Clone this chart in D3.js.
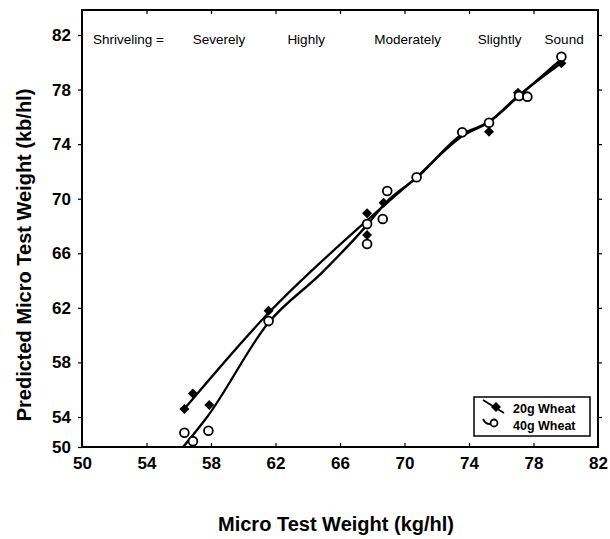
<!DOCTYPE html>
<html>
<head>
<meta charset="utf-8">
<script src="https://cdn.jsdelivr.net/npm/d3@7"></script>
<style>
  body { margin: 0; background: #fff; }
  svg text { font-family: "Liberation Sans", Arial, sans-serif; }
</style>
</head>
<body>
<svg id="chart" width="610" height="539"></svg>
<script>
var w20x = [56.35, 56.88, 57.89, 61.57, 67.68, 67.68, 68.70, 75.24, 77.04, 79.73];
var w20y = [54.58, 55.73, 54.87, 61.79, 68.93, 67.34, 69.70, 74.91, 77.77, 79.93];
var w40x = [56.35, 56.88, 57.84, 61.57, 67.68, 67.68, 68.65, 68.93, 70.75, 73.58, 75.24, 77.10, 77.62, 79.73];
var w40y = [52.84, 52.23, 52.99, 61.03, 68.14, 66.68, 68.51, 70.56, 71.57, 74.87, 75.57, 77.53, 77.48, 80.41];

// smoothed fit lines
var fit20x = [56.34, 61.55, 67.7, 70.75, 73.6, 75.2, 77.02, 79.81];
var fit20y = [54.58, 61.6, 68.44, 71.59, 74.6, 75.6, 77.5, 80.02];
var fit40x = [56.27, 57.76, 61.55, 64.9, 67.7, 68.88, 70.75, 73.6, 75.2, 77.02, 79.81];
var fit40y = [51.8, 54.0, 60.89, 64.6, 68.1, 69.76, 71.52, 74.74, 75.6, 77.45, 80.31];

var xTicks = [50, 54, 58, 62, 66, 70, 74, 78, 82];
var yTicks = [54, 58, 62, 66, 70, 74, 78, 82];
var yBottomLabel = "50";
var shrivel = ["Severely", "Highly", "Moderately", "Slightly", "Sound"];
var shrivelAt = [58.5, 63.9, 70.2, 75.9, 79.9];
var series = ["20g Wheat", "40g Wheat"];

var svg = d3.select("#chart");
var L = 82, R = 598, T = 10, B = 447;
var yMin = 51.8;

var x = d3.scaleLinear().domain([50, 82]).range([L, R]);
// top of frame sits a little above 82
var y = d3.scaleLinear().domain([yMin, 82]).range([B, T + 25]);

var axisStyle = function(g){
  g.select(".domain").remove();
  g.selectAll(".tick line").attr("stroke", "#000").attr("stroke-width", 1.2);
  g.selectAll(".tick text").attr("font-size", 17).attr("font-weight", "bold").attr("fill", "#000");
};

// bottom axis, ticks inward
svg.append("g").attr("transform", "translate(0," + B + ")")
  .call(d3.axisBottom(x).tickValues(xTicks).tickSizeInner(-4).tickSizeOuter(0).tickPadding(10).tickFormat(d3.format("d")))
  .call(axisStyle);

// left axis, ticks outward
svg.append("g").attr("transform", "translate(" + L + ",0)")
  .call(d3.axisLeft(y).tickValues([yMin].concat(yTicks)).tickSizeOuter(0).tickSize(4).tickPadding(7)
    .tickFormat(function(d){ return d === yMin ? yBottomLabel : d; }))
  .call(axisStyle);

// top axis, ticks inward
svg.append("g").attr("transform", "translate(0," + T + ")")
  .call(d3.axisTop(x).tickValues(xTicks.slice(1, -1)).tickSize(-4).tickFormat(""))
  .call(axisStyle);

// right axis, ticks outward
svg.append("g").attr("transform", "translate(" + R + ",0)")
  .call(d3.axisRight(y).tickValues(yTicks).tickSize(4).tickFormat(""))
  .call(axisStyle);

// frame
svg.append("rect").attr("x", L).attr("y", T).attr("width", R - L).attr("height", B - T)
  .attr("fill", "none").attr("stroke", "#000").attr("stroke-width", 2);

// header
svg.append("text").text("Shriveling =").attr("x", 93).attr("y", 44).attr("font-size", 13.5);
svg.selectAll(".shr").data(shrivel).enter().append("text")
  .attr("class", "shr")
  .attr("x", function(d, i){ return x(shrivelAt[i]); })
  .attr("y", 44).attr("text-anchor", "middle").attr("font-size", 13.5)
  .text(function(d){ return d; });

// fit lines
var line = d3.line().x(function(d){ return x(d[0]); }).y(function(d){ return y(d[1]); }).curve(d3.curveMonotoneX);
svg.append("path").datum(d3.zip(fit20x, fit20y)).attr("d", line)
  .attr("fill", "none").attr("stroke", "#000").attr("stroke-width", 2.3);
svg.append("path").datum(d3.zip(fit40x, fit40y)).attr("d", line)
  .attr("fill", "none").attr("stroke", "#000").attr("stroke-width", 2.3);

// markers
var diamond = d3.symbol().type(d3.symbolSquare).size(50);
svg.selectAll(".d20").data(d3.zip(w20x, w20y)).enter().append("path")
  .attr("class", "d20").attr("d", diamond)
  .attr("transform", function(d){ return "translate(" + x(d[0]) + "," + y(d[1]) + ") rotate(45)"; })
  .attr("fill", "#000");
svg.selectAll(".c40").data(d3.zip(w40x, w40y)).enter().append("circle")
  .attr("class", "c40").attr("cx", function(d){ return x(d[0]); }).attr("cy", function(d){ return y(d[1]); })
  .attr("r", 4.4).attr("fill", "#fff").attr("stroke", "#000").attr("stroke-width", 1.8);

// legend
var lg = svg.append("g").attr("transform", "translate(474,397)");
lg.append("rect").attr("width", 116).attr("height", 39).attr("fill", "#fff").attr("stroke", "#000").attr("stroke-width", 1.5);
lg.append("line").attr("x1", 9).attr("y1", 3).attr("x2", 30).attr("y2", 16).attr("stroke", "#000").attr("stroke-width", 1.8);
lg.append("path").attr("d", diamond).attr("transform", "translate(22,10) rotate(45)").attr("fill", "#000");
lg.append("path").attr("d", "M9,22 Q12,28 17,27").attr("fill", "none").attr("stroke", "#000").attr("stroke-width", 1.8);
lg.append("circle").attr("cx", 20).attr("cy", 26).attr("r", 3.5).attr("fill", "#fff").attr("stroke", "#000").attr("stroke-width", 1.8);
lg.selectAll(".lt").data(series).enter().append("text")
  .attr("x", 39).attr("y", function(d, i){ return 16 + i * 17; })
  .attr("font-size", 12.5).attr("font-weight", "bold").text(function(d){ return d; });

// axis titles
svg.append("text").text("Micro Test Weight (kg/hl)")
  .attr("x", (L + R) / 2 - 4).attr("y", 531).attr("text-anchor", "middle")
  .attr("font-size", 20).attr("font-weight", "bold");
svg.append("text").text("Predicted Micro Test Weight (kb/hl)")
  .attr("transform", "translate(31," + 255 + ") rotate(-90)").attr("text-anchor", "middle")
  .attr("font-size", 20).attr("font-weight", "bold");
</script>
</body>
</html>
